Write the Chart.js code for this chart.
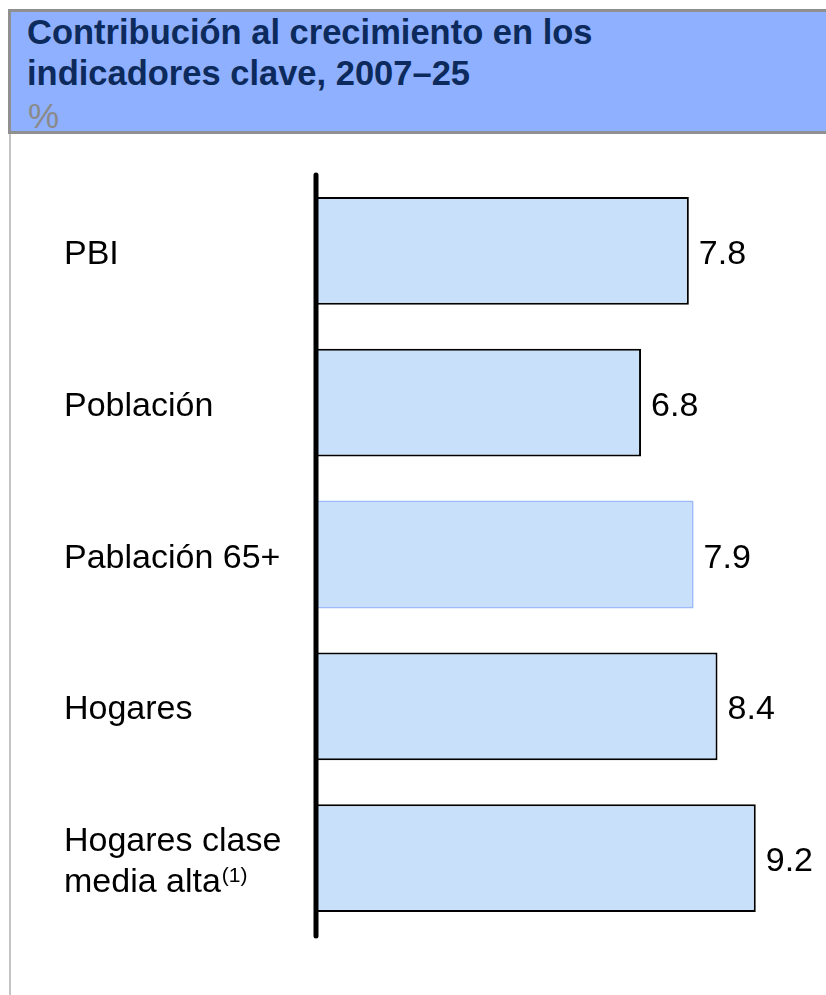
<!DOCTYPE html>
<html>
<head>
<meta charset="utf-8">
<script src="https://cdn.jsdelivr.net/npm/chart.js@4/dist/chart.umd.min.js"></script>
<style>
  html, body { margin: 0; padding: 0; background: #ffffff; }
  body { width: 826px; height: 995px; position: relative; overflow: hidden; font-family: "Liberation Sans", Arial, sans-serif; }
  #leftline { position: absolute; left: 9px; top: 10px; width: 2px; height: 985px; background: #c4c4c4; }
  #header { position: absolute; left: 8px; top: 9px; width: 818px; height: 119px; background: #8fb0fe;
            border-top: 3px solid #909090; border-left: 3px solid #909090; border-bottom: 3px solid #909090; box-sizing: content-box; }
  #title { position: absolute; left: 16px; top: 0px; color: #0c2a5c; font-weight: bold; font-size: 34.5px; line-height: 41px; white-space: nowrap; }
  #unit { position: absolute; left: 17px; top: 83px; color: #8a8a8a; font-size: 35px; line-height: 41px; }
  #wrap { position: absolute; left: 0; top: 0; width: 826px; height: 995px; }
</style>
</head>
<body>
<div id="leftline"></div>
<div id="header">
  <div id="title">Contribución al crecimiento en los<br>indicadores clave, 2007–25</div>
  <div id="unit">%</div>
</div>
<div id="wrap"><canvas id="c" width="826" height="995"></canvas></div>
<script>
const categories = [
  ["PBI"],
  ["Población"],
  ["Pablación 65+"],
  ["Hogares"],
  ["Hogares clase", "media alta"]
];
const superscripts = ["", "", "", "", "(1)"];
const values = [7.8, 6.8, 7.9, 8.4, 9.2];
const valueLabels = ["7.8", "6.8", "7.9", "8.4", "9.2"];

const FONT = '"Liberation Sans", Arial, sans-serif';

const labelPlugin = {
  id: 'labelPlugin',
  afterDatasetsDraw(chart) {
    const ctx = chart.ctx;
    const y = chart.scales.y;
    const x = chart.scales.x;
    const area = chart.chartArea;
    ctx.save();
    // axis line
    ctx.strokeStyle = '#000';
    ctx.lineWidth = 5;
    ctx.lineCap = 'round';
    const x0 = x.getPixelForValue(0);
    ctx.beginPath();
    ctx.moveTo(x0, area.top);
    ctx.lineTo(x0, area.bottom + 2);
    ctx.stroke();
    // category labels
    ctx.fillStyle = '#000';
    ctx.textBaseline = 'alphabetic';
    ctx.textAlign = 'left';
    const lh = 41;
    categories.forEach((lines, i) => {
      const cy = y.getPixelForValue(i);
      lines.forEach((ln, j) => {
        ctx.font = '34px ' + FONT;
        const ly = cy + 13 + (j - (lines.length - 1) / 2) * lh;
        ctx.fillText(ln, 64, ly);
        if (j === lines.length - 1 && superscripts[i]) {
          const w = ctx.measureText(ln).width;
          ctx.font = '21px ' + FONT;
          ctx.fillText(superscripts[i], 64 + w + 1, ly - 10);
        }
      });
      // value labels
      ctx.font = '34px ' + FONT;
      ctx.fillText(valueLabels[i], x.getPixelForValue(values[i]) + 10, cy + 13);
    });
    ctx.restore();
  }
};

new Chart(document.getElementById('c'), {
  type: 'bar',
  data: {
    labels: categories.map(c => c.join(' ')),
    datasets: [{
      data: values,
      backgroundColor: '#c8e0fa',
      borderColor: ['#000000', '#000000', '#9dbaf9', '#000000', '#000000'],
      borderWidth: 2,
      borderSkipped: 'start',
      categoryPercentage: 1,
      barPercentage: 0.71
    }]
  },
  options: {
    indexAxis: 'y',
    responsive: false,
    animation: false,
    layout: { padding: { left: 316, right: 32, top: 175, bottom: 61 } },
    plugins: { legend: { display: false }, tooltip: { enabled: false }, title: { display: false } },
    scales: {
      x: { display: false, min: 0, max: 10 },
      y: { display: false }
    }
  },
  plugins: [labelPlugin]
});
</script>
</body>
</html>
